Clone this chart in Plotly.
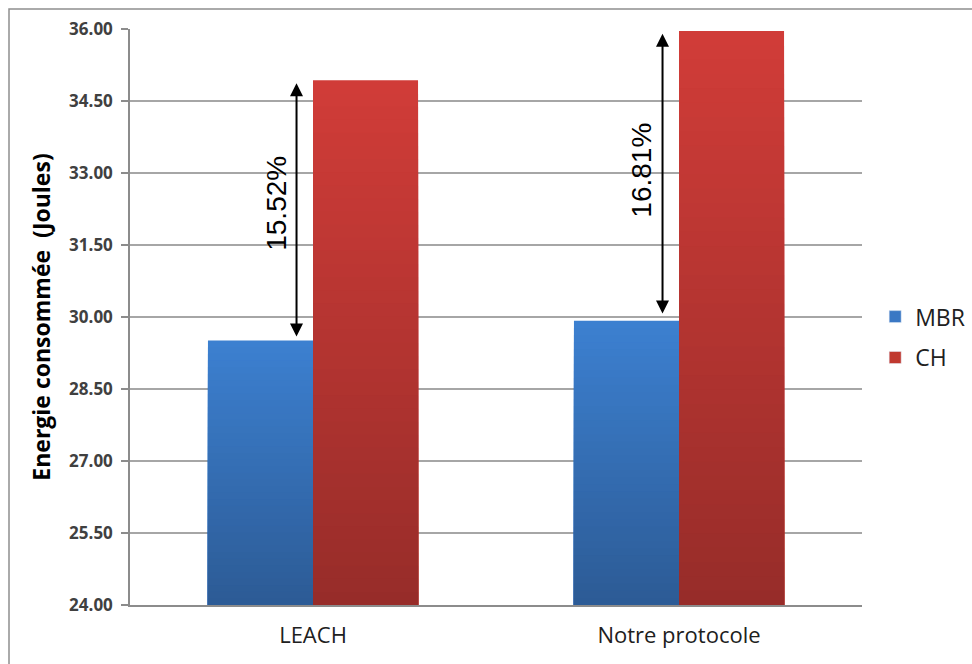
import plotly.graph_objects as go

# Energy consumed per protocol (Joules)
categories = ["LEACH", "Notre protocole"]
mbr_values = [29.51, 29.92]
ch_values = [34.93, 35.96]
gap_labels = ["15.52%", "16.81%"]
y_ticks = [24.0, 25.5, 27.0, 28.5, 30.0, 31.5, 33.0, 34.5, 36.0]
y_tick_text = [f"{v:.2f}" for v in y_ticks]

Y_BASE = 24.0
BAR_W = 0.287
N_STEPS = 40


def lerp(c1, c2, t):
    return "rgb({},{},{})".format(*[round(a + (b - a) * t) for a, b in zip(c1, c2)])


series = [
    ("MBR", mbr_values, -BAR_W, (60, 128, 208), (44, 90, 148), "#3a78c4"),
    ("CH", ch_values, 0.0, (208, 60, 56), (150, 44, 41), "#c0392f"),
]

xs = list(range(len(categories)))
fig = go.Figure()

# Each bar is painted as nested bars (tallest first) to give a vertical gradient
for gi, (name, vals, offset, top_c, bot_c, legend_c) in enumerate(series):
    for k in range(N_STEPS, 0, -1):
        frac = k / N_STEPS
        heights = [(v - Y_BASE) * frac for v in vals]
        fig.add_trace(go.Bar(
            x=xs, y=heights, base=[Y_BASE] * len(vals),
            width=BAR_W, offset=offset,
            marker=dict(color=lerp(bot_c, top_c, frac), line=dict(width=0)),
            showlegend=False, hoverinfo="skip", legendgroup=name,
        ))
    # legend entry
    fig.add_trace(go.Bar(
        x=[None], y=[None], name=name, legendgroup=name,
        marker=dict(color=legend_c), showlegend=True,
    ))

# Double-headed arrows with percentage labels
label_dy = [0.15, 0.12]
label_dx = [-20, -21]
for i, (lo, hi, lab) in enumerate(zip(mbr_values, ch_values, gap_labels)):
    ax_x = i - 0.045
    fig.add_annotation(
        x=ax_x, y=hi - 0.06, ax=ax_x, ay=lo + (0.05 if i == 0 else 0.12),
        xref="x", yref="y", axref="x", ayref="y",
        showarrow=True, arrowhead=2, startarrowhead=2, arrowside="end+start",
        arrowwidth=2, arrowsize=1.3, startarrowsize=1.3, arrowcolor="black", text="",
    )
    fig.add_annotation(
        x=ax_x, y=(lo + hi) / 2 + label_dy[i], xref="x", yref="y",
        xshift=label_dx[i], text=lab, showarrow=False, textangle=-90,
        font=dict(family="Liberation Sans", size=28, color="black"),
    )

# Outer frame
fig.add_shape(type="rect", xref="paper", yref="paper",
              x0=-0.1653, y0=-0.5, x1=1.3, y1=1.0347,
              line=dict(color="#8f8f8f", width=1.5), fillcolor="rgba(0,0,0,0)",
              layer="below")

fig.update_layout(
    width=972, height=664,
    margin=dict(l=130, r=110, t=29, b=59, autoexpand=False),
    paper_bgcolor="white", plot_bgcolor="white",
    barmode="overlay",
    font=dict(family="Open Sans", color="#404040"),
    legend=dict(x=1.018, y=0.465, xanchor="left", yanchor="middle",
                font=dict(family="Open Sans", size=23, color="#202020"),
                itemwidth=30, tracegroupgap=8, traceorder="grouped"),
    xaxis=dict(
        tickmode="array", tickvals=xs, ticktext=categories,
        range=[-0.5, 1.5], showgrid=False,
        showline=True, linecolor="#8c8c8c", linewidth=1.5,
        tickfont=dict(family="Open Sans", size=22, color="#202020"),
        ticks="", ticklen=0, ticklabelstandoff=10,
    ),
    yaxis=dict(
        range=[24, 36], tickvals=y_ticks, ticktext=y_tick_text,
        showgrid=True, gridcolor="#a6a6a6", gridwidth=1.5,
        showline=True, linecolor="#8c8c8c", linewidth=1.5,
        ticks="outside", ticklen=7, tickcolor="#8c8c8c", tickwidth=1.5,
        ticklabelstandoff=5,
        tickfont=dict(family="Open Sans", size=17, color="#404040", weight="bold"),
        zeroline=False,
        title=dict(text="Energie consommée  (Joules)", standoff=12,
                   font=dict(family="Open Sans", size=23, color="black", weight="bold")),
    ),
)

fig.write_html("out.html")
